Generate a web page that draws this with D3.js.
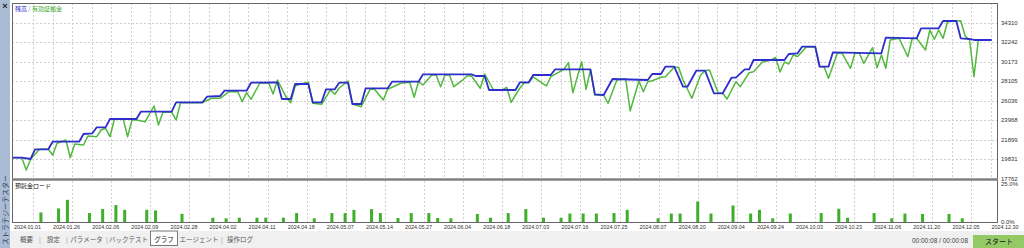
<!DOCTYPE html>
<html>
<head>
<meta charset="utf-8">
<script src="https://cdn.jsdelivr.net/npm/d3@7"></script>
<style>
  body { margin: 0; background: #fff; }
  svg { display: block; font-family: "Liberation Sans", Arial, sans-serif; }
</style>
</head>
<body>
<svg id="chart" width="1024" height="248"></svg>
<script>
// balance: [deal number, value] at each corner of the line
const balance = [[0,20017],[2,20017],[4,19880],[5,20907],[8,20907],[9,21711],[15,21711],[16,22527],[18,22601],[19,23236],[21,23236],[22,24115],[28,24115],[29,24888],[36,24888],[37,25883],[43,25883],[44,26476],[47,26550],[48,27111],[53,27111],[54,27958],[60,28001],[61,26232],[63,26232],[64,27821],[67,27821],[68,25883],[70,25883],[71,27259],[73,27259],[74,27958],[76,27958],[77,25703],[79,25703],[80,27365],[85,27365],[86,28064],[92,28064],[93,28848],[104,28848],[105,28668],[107,28668],[108,27185],[114,27185],[115,28001],[117,28001],[118,28774],[122,28774],[123,29377],[131,29377],[132,26730],[134,26656],[136,28350],[144,28244],[145,28879],[147,28879],[148,29652],[150,29652],[152,27535],[153,27535],[155,29229],[157,29229],[159,26836],[161,26836],[163,28488],[164,28488],[166,29377],[167,29377],[168,30362],[175,30362],[176,30997],[178,31071],[179,31770],[182,31770],[183,29652],[185,29652],[186,31177],[197,31071],[198,32723],[205,32659],[206,33718],[210,33718],[211,34491],[214,34491],[215,32659],[217,32585],[218,32479],[222,32479]];

// equity (有効証拠金)
const equity = [[0,20017],[2,20017],[3,18715],[4,19848],[6,20907],[8,20907],[9,20303],[10,21542],[12,21891],[13,20017],[14,21468],[16,21362],[17,22315],[19,22241],[20,22950],[21,23130],[22,22241],[23,24083],[25,24083],[26,22241],[27,24009],[28,24009],[30,23829],[32,25491],[33,23480],[34,24824],[36,24824],[37,24009],[38,25840],[43,25840],[45,26307],[47,26307],[49,27005],[51,27005],[52,25947],[53,26900],[54,26200],[56,27926],[58,27926],[59,26762],[60,28244],[62,26412],[63,25840],[64,27609],[65,27789],[67,28001],[68,25777],[70,25671],[72,27185],[73,26730],[74,27400],[76,28138],[77,25703],[79,25417],[81,27259],[82,27259],[84,26127],[85,27259],[88,27895],[90,28001],[91,26412],[92,28064],[93,27715],[95,28774],[96,28774],[97,27535],[98,28774],[99,28774],[100,27535],[102,28240],[103,28668],[104,28668],[106,27365],[107,28879],[109,27185],[111,27185],[112,27471],[113,25883],[114,26656],[115,27397],[116,27958],[117,27958],[118,28562],[121,27609],[122,28593],[125,29377],[126,30076],[127,26900],[129,30182],[130,27259],[131,29303],[132,26656],[134,26656],[135,25777],[137,28244],[139,28382],[140,24962],[142,28138],[143,27005],[144,28064],[145,28170],[147,28530],[148,28593],[150,29589],[151,29589],[152,28244],[154,26307],[156,28774],[157,29229],[158,29303],[160,26836],[161,26836],[162,26232],[164,28064],[165,27535],[167,29017],[168,29123],[170,30150],[172,30362],[173,30626],[174,29091],[175,30150],[176,29938],[177,30891],[178,30732],[180,31770],[182,31706],[183,29652],[184,29652],[185,28424],[187,31071],[188,31135],[190,29483],[191,31071],[192,31071],[193,30012],[195,31664],[196,29546],[197,30891],[198,29483],[199,32479],[201,32659],[203,30711],[204,32659],[205,32659],[207,31420],[208,33538],[209,32553],[210,33538],[211,32659],[212,34417],[214,34491],[215,34523],[216,32903],[217,32479],[218,28594],[219,32479],[222,32479]];

// deposit load in %, [deal number, %]
const depositLoad = [[6,6.2],[10,8.8],[12,14.4],[17,5.8],[20,8.4],[23,11],[25,7.9],[30,7.9],[32,7.5],[38,5.3],[45,2.8],[48,2.4],[51,2.8],[55,2.8],[57,2.8],[61,2.8],[64,5.8],[68,2.4],[72,5.8],[75,5.8],[77,7.9],[81,8.4],[83,5.8],[87,2.6],[90,5.8],[94,5.8],[96,2.6],[99,2.4],[105,5.2],[108,2.8],[112,5.8],[116,8.4],[120,2.8],[124,2.8],[126,5.5],[129,5.5],[132,5.5],[136,5.8],[139,7.9],[146,2.4],[149,5.5],[151,5.5],[155,13.3],[158,5.5],[163,10.7],[167,5.5],[169,7.9],[172,2.4],[176,5.5],[183,5.8],[187,8.6],[189,2.8],[195,5.8],[199,2.4],[202,5.5],[206,5.2],[212,5.2],[215,2.4]];

const yTicks = [17762, 19831, 21899, 23968, 26036, 28105, 30173, 32242, 34310];
const loadTicks = [0, 25];
const dateLabels = ["2024.01.01","2024.01.26","2024.02.06","2024.02.09","2024.02.28","2024.04.02","2024.04.11","2024.04.18","2024.05.07","2024.05.14","2024.05.27","2024.06.04","2024.06.18","2024.07.03","2024.07.16","2024.07.25","2024.08.07","2024.08.20","2024.09.04","2024.09.24","2024.10.03","2024.10.23","2024.11.06","2024.11.20","2024.12.05","2024.12.30"];
const tabs = ["概要", "設定", "パラメータ", "バックテスト", "グラフ", "エージェント", "操作ログ"];

const svg = d3.select("#chart");
const pLeft = 12, pRight = 997, pTop = 3, pSep = 179, pBottom = 222;
const cjk = "'Noto Sans CJK JP', sans-serif";

const x = d3.scaleLinear().domain([0, 223]).range([13, 996]);
const y = d3.scaleLinear().domain([17762, 36396]).range([pSep, pTop]);
const yLoad = d3.scaleLinear().domain([0, 25]).range([pBottom, 183.5]);
// grid slots are spaced by pixels, every second slot carries a date
const slot = d3.scalePoint().domain(d3.range(dateLabels.length * 2)).range([33, 33 + 19.55 * (dateLabels.length * 2 - 1)]);

// left panel
svg.append("rect").attr("x", 0).attr("y", 0).attr("width", 10).attr("height", 248).attr("fill", "#a9bcd3");
svg.append("text").attr("x", 5).attr("y", 9).attr("text-anchor", "middle")
  .attr("font-size", 9).attr("font-weight", "bold").attr("fill", "#222").text("×");
svg.append("text").attr("transform", "translate(7.5,245) rotate(-90)")
  .attr("font-family", cjk).attr("font-size", 7).attr("fill", "#2a3a60").text("ストラテジーテスター");

// grid
const gridG = svg.append("g").attr("stroke", "#cfcfcf").attr("stroke-dasharray", "2,2").attr("stroke-width", 1);
gridG.selectAll(".hg").data(yTicks.slice(1)).enter().append("line")
  .attr("x1", pLeft).attr("x2", pRight)
  .attr("y1", d => Math.round(y(d)) + 0.5).attr("y2", d => Math.round(y(d)) + 0.5);
gridG.selectAll(".vg").data(slot.domain().filter(i => slot(i) < pRight)).enter().append("line")
  .attr("x1", i => Math.round(slot(i)) + 0.5).attr("x2", i => Math.round(slot(i)) + 0.5)
  .attr("y1", pTop).attr("y2", pSep);
gridG.selectAll(".vg2").data(slot.domain().filter(i => i % 2 === 0 && slot(i) < pRight)).enter().append("line")
  .attr("x1", i => Math.round(slot(i)) + 0.5).attr("x2", i => Math.round(slot(i)) + 0.5)
  .attr("y1", pSep + 2).attr("y2", pBottom);

// lines
const line = d3.line().x(d => x(d[0])).y(d => y(d[1]));
svg.append("path").datum(equity).attr("d", line)
  .attr("fill", "none").attr("stroke", "#52b83e").attr("stroke-width", 1.5).attr("stroke-linejoin", "round");
svg.append("path").datum(balance).attr("d", line)
  .attr("fill", "none").attr("stroke", "#2e2ecc").attr("stroke-width", 1.8).attr("stroke-linejoin", "round");

// deposit load bars
svg.selectAll(".bar").data(depositLoad).enter().append("rect")
  .attr("x", d => x(d[0])).attr("width", 3)
  .attr("y", d => yLoad(d[1])).attr("height", d => pBottom - yLoad(d[1]))
  .attr("fill", "#3fae2a");

// frame
svg.append("rect").attr("x", pLeft + 0.5).attr("y", pTop + 0.5).attr("width", pRight - pLeft).attr("height", pBottom - pTop)
  .attr("fill", "none").attr("stroke", "#666");
svg.append("line").attr("x1", pLeft).attr("x2", pRight + 1).attr("y1", pSep + 0.5).attr("y2", pSep + 0.5)
  .attr("stroke", "#808080").attr("stroke-width", 2.5);

// titles
const title = svg.append("text").attr("x", 15).attr("y", 10.5).attr("font-family", cjk).attr("font-size", 6);
title.append("tspan").attr("fill", "#2626c4").text("残高");
title.append("tspan").attr("fill", "#777").text(" / ");
title.append("tspan").attr("fill", "#3aa82a").text("有効証拠金");
svg.append("text").attr("x", 15).attr("y", 187.5).attr("font-family", cjk).attr("font-size", 6)
  .attr("fill", "#111").text("預託金ロード");

// right axis labels
svg.selectAll(".yl").data(yTicks).enter().append("text")
  .attr("x", 1001).attr("y", d => y(d) + 2).attr("font-size", 6).attr("fill", "#333").text(d => d);
svg.selectAll(".ll").data(loadTicks).enter().append("text")
  .attr("x", 1001).attr("y", d => yLoad(d) + (d === 0 ? 1.5 : 2.5)).attr("font-size", 6).attr("fill", "#333")
  .text(d => d.toFixed(1) + "%");

// date labels
svg.selectAll(".dl").data(dateLabels).enter().append("text")
  .attr("x", (d, i) => slot(i * 2) - 5.5).attr("y", 228.5).attr("text-anchor", "middle")
  .attr("font-size", 6).attr("fill", "#333").attr("textLength", 27).attr("lengthAdjust", "spacingAndGlyphs")
  .text(d => d);

// tab strip
svg.append("rect").attr("x", 10).attr("y", 231).attr("width", 1014).attr("height", 17).attr("fill", "#f0f0f0");
const tabX = [26.5, 53.5, 86.5, 128.5, 164, 199, 240];
svg.append("rect").attr("x", 150.5).attr("y", 231).attr("width", 27).attr("height", 14.5)
  .attr("fill", "#fff").attr("stroke", "#777");
svg.selectAll(".tab").data(tabs).enter().append("text")
  .attr("x", (d, i) => tabX[i]).attr("y", 241.5).attr("text-anchor", "middle")
  .attr("font-family", cjk).attr("font-size", 6.5).attr("fill", (d, i) => i === 4 ? "#111" : "#555")
  .text(d => d);
svg.selectAll(".sepbar").data([40, 67, 107, 222]).enter().append("text")
  .attr("x", d => d).attr("y", 241.5).attr("text-anchor", "middle").attr("font-size", 7).attr("fill", "#aaa").text("|");

// status and start button
svg.append("text").attr("x", 968).attr("y", 242.5).attr("text-anchor", "end").attr("font-size", 6.5)
  .attr("fill", "#444").text("00:00:08 / 00:00:08");
svg.append("rect").attr("x", 973).attr("y", 235).attr("width", 51).attr("height", 13).attr("fill", "#94ca66");
svg.append("text").attr("x", 999).attr("y", 243.5).attr("text-anchor", "middle").attr("font-family", cjk)
  .attr("font-size", 7).attr("fill", "#111").text("スタート");
</script>
</body>
</html>
